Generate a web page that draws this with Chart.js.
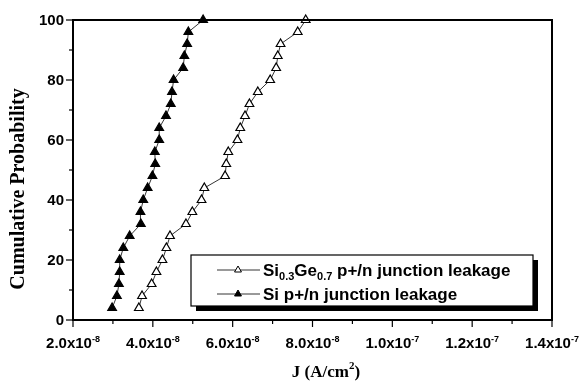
<!DOCTYPE html>
<html>
  <head>
    <title>Cumulative Probability - junction leakage</title>
    <script src="https://cdn.jsdelivr.net/npm/chart.js"></script>
    <style>
      body {
        margin: 0;
        background: #fff;
      }

      .chart-container {
        width: 581px;
        height: 384px;
      }
    </style>
  </head>
  <body>
    <div class="chart-container">
      <canvas id="myChart" width="581" height="384"></canvas>
    </div>

    <script>
      // cumulative probability (%) shared by both series
      const probability = [4, 8, 12, 16, 20, 24, 28, 32, 36, 40, 44, 48, 52,
        56, 60, 64, 68, 72, 76, 80, 84, 88, 92, 96, 100];

      // leakage current density J (A/cm2)
      const siGeLeakage = [3.65e-8, 3.73e-8, 3.97e-8, 4.09e-8, 4.24e-8, 4.34e-8,
        4.43e-8, 4.83e-8, 4.99e-8, 5.22e-8, 5.29e-8, 5.81e-8, 5.84e-8, 5.89e-8,
        6.12e-8, 6.19e-8, 6.31e-8, 6.42e-8, 6.63e-8, 6.94e-8, 7.09e-8, 7.13e-8,
        7.20e-8, 7.63e-8, 7.83e-8];
      const siLeakage = [2.98e-8, 3.10e-8, 3.15e-8, 3.17e-8, 3.17e-8, 3.26e-8,
        3.42e-8, 3.70e-8, 3.69e-8, 3.76e-8, 3.87e-8, 3.99e-8, 4.06e-8, 4.05e-8,
        4.16e-8, 4.16e-8, 4.33e-8, 4.45e-8, 4.48e-8, 4.52e-8, 4.76e-8, 4.79e-8,
        4.86e-8, 4.89e-8, 5.26e-8];

      const xTicks = [2e-8, 4e-8, 6e-8, 8e-8, 1e-7, 1.2e-7, 1.4e-7];
      const yTicks = [0, 20, 40, 60, 80, 100];

      function pairs(xs) {
        return xs.map((x, i) => ({ x: x, y: probability[i] }));
      }

      const SANS = "'Liberation Sans', Arial, sans-serif";
      const SERIF = "'Liberation Serif', 'Times New Roman', serif";

      // text with sub/superscript parts: [[text, "n"|"sub"|"sup"], ...]
      function richText(ctx, parts, x, y, size, align) {
        let total = 0;
        parts.forEach((p) => {
          ctx.font = "bold " + (p[1] == "n" ? size : Math.round(size * 0.62)) + "px " + SANS;
          total += ctx.measureText(p[0]).width;
        });
        let cx = align == "center" ? x - total / 2 : x;
        ctx.textAlign = "left";
        ctx.textBaseline = "alphabetic";
        parts.forEach((p) => {
          let s = p[1] == "n" ? size : Math.round(size * 0.62);
          ctx.font = "bold " + s + "px " + SANS;
          let dy = p[1] == "sup" ? -size * 0.42 : p[1] == "sub" ? size * 0.22 : 0;
          ctx.fillText(p[0], cx, y + dy);
          cx += ctx.measureText(p[0]).width;
        });
      }

      const decorations = {
        id: "decorations",
        afterDraw(chart) {
          const ctx = chart.ctx;
          const a = chart.chartArea;
          const xs = chart.scales.x;
          const ys = chart.scales.y;
          ctx.save();
          ctx.strokeStyle = "#000";
          ctx.fillStyle = "#000";

          // frame
          ctx.lineWidth = 2;
          ctx.strokeRect(a.left, a.top, a.right - a.left, a.bottom - a.top);

          // y ticks, major and minor
          ctx.lineWidth = 1.2;
          for (let v = 0; v <= 100; v += 10) {
            const py = ys.getPixelForValue(v);
            const len = v % 20 == 0 ? 7 : 4;
            ctx.beginPath();
            ctx.moveTo(a.left - len, py);
            ctx.lineTo(a.left, py);
            ctx.stroke();
          }
          // x ticks
          for (let k = 2; k <= 14; k++) {
            const px = xs.getPixelForValue(k * 1e-8);
            const len = k % 2 == 0 ? 7 : 4;
            ctx.beginPath();
            ctx.moveTo(px, a.bottom);
            ctx.lineTo(px, a.bottom + len);
            ctx.stroke();
          }

          // y tick labels
          ctx.font = "bold 15px " + SANS;
          ctx.textAlign = "right";
          ctx.textBaseline = "middle";
          yTicks.forEach((v) => {
            ctx.fillText(String(v), a.left - 9, ys.getPixelForValue(v) + 1);
          });

          // x tick labels like 2.0x10^-8
          xTicks.forEach((v) => {
            const e = v.toExponential(1).split("e");
            richText(ctx, [[e[0] + "x10", "n"], [String(Number(e[1])), "sup"]],
              xs.getPixelForValue(v), a.bottom + 28, 15, "center");
          });

          // axis titles
          ctx.font = "bold 20px " + SERIF;
          ctx.textAlign = "center";
          ctx.textBaseline = "middle";
          ctx.save();
          ctx.translate(19, 189);
          ctx.rotate(-Math.PI / 2);
          ctx.fillText("Cumulative Probability", 0, 0);
          ctx.restore();
          const jx = 326;
          const jy = 372;
          ctx.textAlign = "left";
          ctx.textBaseline = "alphabetic";
          ctx.font = "bold 17px " + SERIF;
          const part1 = "J (A/cm";
          const w1 = ctx.measureText(part1).width;
          ctx.font = "bold 11px " + SERIF;
          const w2 = ctx.measureText("2").width;
          ctx.font = "bold 17px " + SERIF;
          const w3 = ctx.measureText(")").width;
          let sx = jx - (w1 + w2 + w3) / 2;
          ctx.fillText(part1, sx, jy + 5);
          ctx.font = "bold 11px " + SERIF;
          ctx.fillText("2", sx + w1, jy - 3);
          ctx.font = "bold 17px " + SERIF;
          ctx.fillText(")", sx + w1 + w2, jy + 5);

          // legend box with drop shadow
          const bx = 191, by = 255, bw = 342, bh = 51;
          ctx.fillRect(bx + 5, by + 5, bw, bh);
          ctx.fillStyle = "#fff";
          ctx.fillRect(bx, by, bw, bh);
          ctx.lineWidth = 1.2;
          ctx.strokeRect(bx, by, bw, bh);
          ctx.fillStyle = "#000";

          const rows = [
            { ds: chart.data.datasets[0], y: by + 15,
              parts: [["Si", "n"], ["0.3", "sub"], ["Ge", "n"], ["0.7", "sub"], [" p+/n junction leakage", "n"]] },
            { ds: chart.data.datasets[1], y: by + 39,
              parts: [["Si p+/n junction leakage", "n"]] },
          ];
          rows.forEach((r) => {
            ctx.lineWidth = 0.8;
            ctx.beginPath();
            ctx.moveTo(217, r.y);
            ctx.lineTo(260, r.y);
            ctx.stroke();
            ctx.fillStyle = r.ds.pointBackgroundColor;
            ctx.strokeStyle = "#000";
            ctx.lineWidth = 1;
            Chart.helpers.drawPoint(ctx, { pointStyle: "triangle", radius: 4, borderWidth: 1, rotation: 0 }, 238, r.y);
            ctx.fillStyle = "#000";
            richText(ctx, r.parts, 263, r.y + 6, 17, "left");
          });
          ctx.restore();
        },
      };

      const ctx = document.getElementById("myChart").getContext("2d");
      new Chart(ctx, {
        type: "line",
        data: {
          datasets: [
            {
              label: "Si0.3Ge0.7 p+/n junction leakage",
              data: pairs(siGeLeakage),
              borderColor: "#000",
              borderWidth: 0.8,
              pointStyle: "triangle",
              pointRadius: 5,
              pointBorderWidth: 1.2,
              pointBackgroundColor: "#fff",
              pointBorderColor: "#000",
              clip: false,
            },
            {
              label: "Si p+/n junction leakage",
              data: pairs(siLeakage),
              borderColor: "#000",
              borderWidth: 0.8,
              pointStyle: "triangle",
              pointRadius: 5,
              pointBorderWidth: 1.2,
              pointBackgroundColor: "#000",
              pointBorderColor: "#000",
              clip: false,
            },
          ],
        },
        options: {
          responsive: false,
          animation: false,
          layout: { padding: { top: 20, right: 29, left: 0, bottom: 0 } },
          plugins: { legend: { display: false }, tooltip: { enabled: false } },
          scales: {
            x: {
              type: "linear",
              min: 2e-8,
              max: 1.4e-7,
              ticks: { display: false },
              grid: { display: false },
              border: { display: false },
              afterFit: (s) => { s.height = 64; },
            },
            y: {
              min: 0,
              max: 100,
              ticks: { display: false },
              grid: { display: false },
              border: { display: false },
              afterFit: (s) => { s.width = 73; },
            },
          },
        },
        plugins: [decorations],
      });
    </script>
  </body>
</html>
